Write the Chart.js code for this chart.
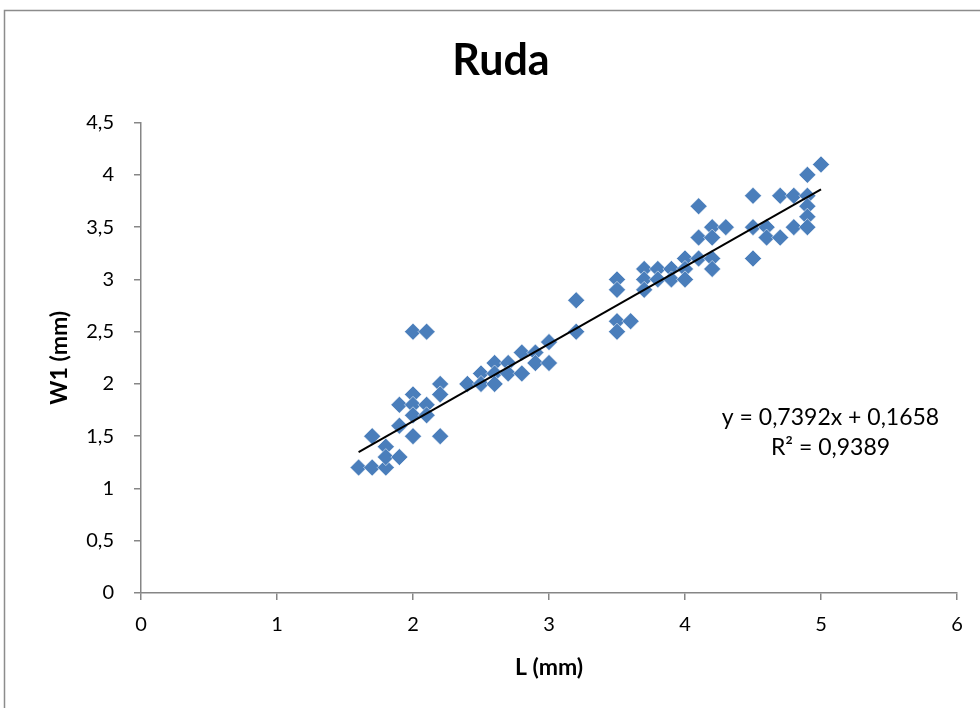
<!DOCTYPE html>
<html>
<head>
<meta charset="utf-8">
<script src="https://cdn.jsdelivr.net/npm/chart.js@4/dist/chart.umd.min.js"></script>
<style>
  html, body { margin: 0; padding: 0; background: #fff; }
  #wrap { width: 980px; height: 708px; position: relative; }
</style>
</head>
<body>
<div id="wrap"><canvas id="chart" width="980" height="708"></canvas></div>
<script>
// measured L / W1 pairs (mm)
const lengthValues = [
    1.6, 1.7, 1.8, 1.7, 1.8, 1.8, 1.9, 1.9, 1.9, 2.0,
    2.1, 2.0, 2.0, 2.0, 2.0, 2.1, 2.1, 2.2, 2.2, 2.2,
    2.4, 2.5, 2.5, 2.6, 2.6, 2.6, 2.7, 2.7, 2.8, 2.8,
    2.9, 2.9, 3.0, 3.0, 3.2, 3.2, 3.5, 3.5, 3.5, 3.5,
    3.6, 3.7, 3.7, 3.7, 3.8, 3.8, 3.9, 3.9, 4.0, 4.0,
    4.0, 4.1, 4.1, 4.1, 4.2, 4.2, 4.2, 4.2, 4.3, 4.5,
    4.5, 4.5, 4.6, 4.6, 4.7, 4.7, 4.8, 4.8, 4.9, 4.9,
    4.9, 4.9, 4.9, 5.0
];
const widthValues = [
    1.2, 1.2, 1.2, 1.5, 1.4, 1.3, 1.3, 1.6, 1.8, 2.5,
    2.5, 1.9, 1.8, 1.7, 1.5, 1.8, 1.7, 2.0, 1.9, 1.5,
    2.0, 2.1, 2.0, 2.2, 2.1, 2.0, 2.2, 2.1, 2.3, 2.1,
    2.3, 2.2, 2.4, 2.2, 2.8, 2.5, 3.0, 2.9, 2.6, 2.5,
    2.6, 3.1, 3.0, 2.9, 3.1, 3.0, 3.1, 3.0, 3.2, 3.1,
    3.0, 3.7, 3.4, 3.2, 3.5, 3.4, 3.2, 3.1, 3.5, 3.8,
    3.5, 3.2, 3.5, 3.4, 3.8, 3.4, 3.8, 3.5, 4.0, 3.8,
    3.7, 3.6, 3.5, 4.1
];
const xTicks = [0, 1, 2, 3, 4, 5, 6];
const yTicks = [0, 0.5, 1, 1.5, 2, 2.5, 3, 3.5, 4, 4.5];

// linear trendline as reported by the spreadsheet
const slope = 0.7392;
const intercept = 0.1658;
const rSquared = 0.9389;

const FONT = 'Lato, "Open Sans", sans-serif';
const axisGrey = '#868686';
const fmt = v => String(v).replace('.', ',');

const points = lengthValues.map((x, i) => ({ x: x, y: widthValues[i] }));
const xMin = Math.min(...lengthValues);
const xMax = Math.max(...lengthValues);
const trend = [
    { x: xMin, y: slope * xMin + intercept },
    { x: xMax, y: slope * xMax + intercept }
];

const frame = {
    id: 'frame',
    beforeDraw(chart) {
        const ctx = chart.ctx;
        ctx.save();
        ctx.fillStyle = '#fff';
        ctx.fillRect(0, 0, chart.width, chart.height);
        ctx.strokeStyle = '#8c8c8c';
        ctx.lineWidth = 1.5;
        ctx.strokeRect(4.5, 10.5, chart.width + 20, chart.height + 20);
        ctx.restore();
    }
};

const equationLabel = {
    id: 'equationLabel',
    afterDatasetsDraw(chart) {
        const ctx = chart.ctx;
        const xs = chart.scales.x, ys = chart.scales.y;
        const cx = xs.getPixelForValue(5.07);
        const cy = ys.getPixelForValue(1.68);
        ctx.save();
        ctx.fillStyle = '#000';
        ctx.font = '23px ' + FONT;
        ctx.textAlign = 'center';
        ctx.textBaseline = 'middle';
        ctx.fillText('y = ' + fmt(slope) + 'x + ' + fmt(intercept), cx, cy);
        ctx.fillText('R\u00B2 = ' + fmt(rSquared), cx, cy + 30);
        ctx.restore();
    }
};

new Chart(document.getElementById('chart'), {
    type: 'scatter',
    data: {
        datasets: [
            {
                label: 'W1',
                data: points,
                pointStyle: 'rectRot',
                pointRadius: 8.5,
                pointHoverRadius: 8.5,
                backgroundColor: '#4a7ebb',
                borderColor: 'rgba(255,255,255,0.55)',
                borderWidth: 1,
                order: 2
            },
            {
                label: 'Trend',
                type: 'line',
                data: trend,
                borderColor: '#000',
                borderWidth: 2,
                pointRadius: 0,
                fill: false,
                order: 1
            }
        ]
    },
    options: {
        responsive: false,
        animation: false,
        layout: { padding: { left: 45, right: 23, top: 0, bottom: 0 } },
        plugins: {
            legend: { display: false },
            tooltip: { enabled: false },
            title: {
                display: true,
                text: 'Ruda',
                color: '#000',
                font: { family: FONT, size: 43, weight: 'bold', lineHeight: 1.2 },
                padding: { top: 35, bottom: 36 }
            }
        },
        scales: {
            x: {
                type: 'linear',
                min: 0,
                max: 6,
                afterBuildTicks: s => { s.ticks = xTicks.map(v => ({ value: v })); },
                afterFit: s => { s.height = 115; },
                border: { display: true, color: axisGrey, width: 1.5 },
                grid: { display: true, drawOnChartArea: false, drawTicks: true, tickLength: 7, color: axisGrey, lineWidth: 1.5 },
                ticks: { color: '#000', font: { family: FONT, size: 20 }, padding: 13, callback: v => fmt(v) },
                title: {
                    display: true,
                    text: 'L (mm)',
                    color: '#000',
                    font: { family: FONT, size: 23, weight: 'bold', lineHeight: 1.2 },
                    padding: { top: 4, bottom: 27 }
                }
            },
            y: {
                type: 'linear',
                min: 0,
                max: 4.5,
                afterBuildTicks: s => { s.ticks = yTicks.map(v => ({ value: v })); },
                afterFit: s => { s.width = 96; },
                border: { display: true, color: axisGrey, width: 1.5 },
                grid: { display: true, drawOnChartArea: false, drawTicks: true, tickLength: 7, color: axisGrey, lineWidth: 1.5 },
                ticks: { color: '#000', font: { family: FONT, size: 20 }, padding: 20, callback: v => fmt(v) },
                title: {
                    display: true,
                    text: 'W1 (mm)',
                    color: '#000',
                    font: { family: FONT, size: 23, weight: 'bold', lineHeight: 1.2 },
                    padding: { top: 1, bottom: 4 }
                }
            }
        }
    },
    plugins: [frame, equationLabel]
});
</script>
</body>
</html>
